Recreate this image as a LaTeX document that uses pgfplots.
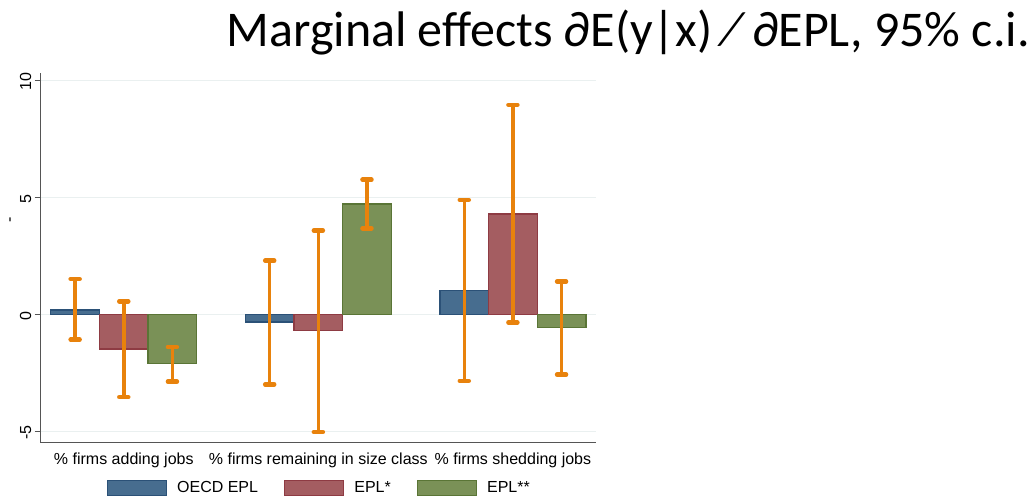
\documentclass[border=0pt]{standalone}
\usepackage{fontspec}
\setmainfont{Liberation Sans}
\newfontfamily\titlefont{Carlito}
\usepackage{pgfplots}
\pgfplotsset{compat=1.18}
\usepackage{pgfplotstable}
\definecolor{cblue}{HTML}{476D8F}
\definecolor{cblueb}{HTML}{2B5177}
\definecolor{cred}{HTML}{A45D61}
\definecolor{credb}{HTML}{8E3B43}
\definecolor{cgreen}{HTML}{7A9157}
\definecolor{cgreenb}{HTML}{5A7536}
\definecolor{corange}{HTML}{E8820C}
\definecolor{gridc}{HTML}{EAF0F0}
\definecolor{axisgray}{HTML}{555555}

\pgfplotstableread{
x v lo hi
-0.25 0.20 -1.07 1.53
0.75 -0.31 -2.98 2.31
1.75 1.04 -2.83 4.91
}\tblblue
\pgfplotstableread{
x v lo hi
0 -1.47 -3.52 0.57
1 -0.68 -5.01 3.60
2 4.30 -0.33 8.97
}\tblred
\pgfplotstableread{
x v lo hi
0.25 -2.10 -2.86 -1.38
1.25 4.73 3.69 5.77
2.25 -0.56 -2.56 1.42
}\tblgreen

\begin{document}
\begin{tikzpicture}
\begin{axis}[
  at={(0,0)}, anchor=south west,
  scale only axis, width=555.3pt, height=369.7pt,
  xmin=-0.427, xmax=2.427, ymin=-5.47, ymax=10.33,
  axis x line*=bottom, axis y line*=left,
  axis line style={draw=axisgray, line width=1.2pt},
  xtick={0,1,2},
  xticklabels={\% firms adding jobs, \% firms remaining in size class, \% firms shedding jobs},
  xticklabel style={font=\fontsize{16}{16}\selectfont, yshift=-1pt},
  major x tick style={draw=none},
  ytick={-5,0,5,10},
  yticklabel style={rotate=90, anchor=south, font=\fontsize{16}{16}\selectfont, xshift=-1pt},
  /pgf/number format/assume math mode=true,
  ymajorgrids, grid style={draw=gridc, line width=1.2pt},
  tick align=outside, major tick length=6pt,
  major y tick style={draw=axisgray, line width=1.2pt},
  bar width=0.25, bar shift=0pt,
  legend columns=3,
  legend style={at={(0.5,-0.1225)}, anchor=center, draw=none, fill=none,
    font=\fontsize{16}{16}\selectfont,
    nodes={inner sep=0pt},
    /tikz/every odd column/.append style={column sep=10pt},
    /tikz/every even column/.append style={column sep=26pt}},
  legend image code/.code={\draw[#1] (0pt,-7.5pt) rectangle (59pt,7.5pt);},
  error bars/error bar style={line width=3.5pt, color=corange},
  error bars/error mark options={rotate=90, line width=4.5pt, mark size=4.5pt, color=corange, line cap=round},
]
\addplot[ybar, fill=cblue, draw=cblueb, line width=1.3pt,
  error bars/.cd, y dir=both, y explicit]
  table[x=x, y=v, y error plus expr=\thisrow{hi}-\thisrow{v}, y error minus expr=\thisrow{v}-\thisrow{lo}] {\tblblue};
\addlegendentry{OECD EPL}
\addplot[ybar, fill=cred, draw=credb, line width=1.3pt,
  error bars/.cd, y dir=both, y explicit]
  table[x=x, y=v, y error plus expr=\thisrow{hi}-\thisrow{v}, y error minus expr=\thisrow{v}-\thisrow{lo}] {\tblred};
\addlegendentry{EPL*}
\addplot[ybar, fill=cgreen, draw=cgreenb, line width=1.3pt,
  error bars/.cd, y dir=both, y explicit]
  table[x=x, y=v, y error plus expr=\thisrow{hi}-\thisrow{v}, y error minus expr=\thisrow{v}-\thisrow{lo}] {\tblgreen};
\addlegendentry{EPL**}
\end{axis}
\node[rotate=90, font=\fontsize{16}{16}\selectfont] at (-28.7pt,222.7pt) {-};
\node[anchor=base east, inner sep=0pt, font=\titlefont\fontsize{50}{50}\selectfont] at (989.3pt,395.7pt) {Marginal effects ∂E(y|x) ⁄ ∂EPL, 95\% c.i.};
\pgfresetboundingbox
\useasboundingbox (-40.7pt,-54.3pt) rectangle (995.3pt,442.7pt);
\end{tikzpicture}
\end{document}
